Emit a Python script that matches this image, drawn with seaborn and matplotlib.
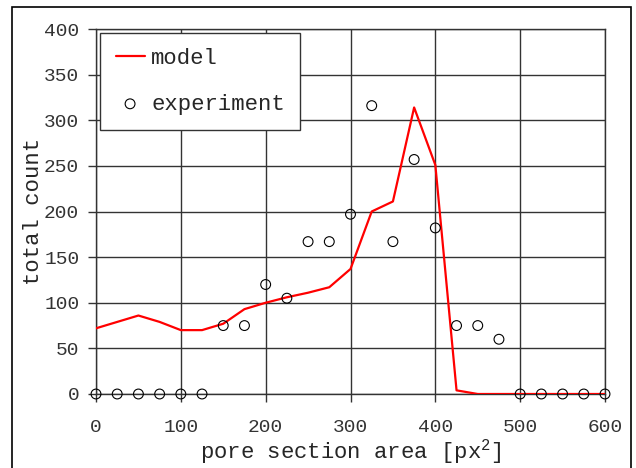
import matplotlib
matplotlib.use("Agg")
import matplotlib.pyplot as plt
import pandas as pd
import seaborn as sns
from matplotlib.patches import Rectangle

# experimental histogram (bins of 25 px^2)
exp_x = [0, 25, 50, 75, 100, 125, 150, 175, 200, 225, 250, 275, 300,
         325, 350, 375, 400, 425, 450, 475, 500, 525, 550, 575, 600]
exp_y = [0, 0, 0, 0, 0, 0, 75, 75, 120, 105, 167, 167, 197,
         316, 167, 257, 182, 75, 75, 60, 0, 0, 0, 0, 0]

# model curve
mod_x = [0, 50, 75, 100, 125, 150, 175, 200, 225, 250, 275, 300,
         325, 350, 375, 400, 425, 450, 475, 500, 525, 550, 575, 600]
mod_y = [72, 86, 79, 70, 70, 77, 93, 100, 106, 111, 117, 137,
         200, 211, 314, 251, 4, 0, 0, 0, 0, 0, 0, 0]

sns.set_theme(style="white")
plt.rcParams["font.family"] = ["Liberation Mono", "DejaVu Sans Mono"]
plt.rcParams["mathtext.fontset"] = "custom"
plt.rcParams["mathtext.rm"] = "Liberation Mono"
plt.rcParams["mathtext.default"] = "regular"

exp = pd.DataFrame({"x": exp_x, "y": exp_y})
mod = pd.DataFrame({"x": mod_x, "y": mod_y})

fig = plt.figure(figsize=(6.36, 4.68), dpi=100)
fig.patches.append(Rectangle((12 / 636, -0.01), 619 / 636, 1 - 7 / 468 + 0.01,
                             transform=fig.transFigure, fill=False,
                             edgecolor="black", lw=1.2))
ax = fig.add_axes([96 / 636, 1 - 394 / 468, 509 / 636, 365 / 468])

sns.lineplot(data=mod, x="x", y="y", color="red", lw=1.6, ax=ax,
             label="model", zorder=3)
sns.scatterplot(data=exp, x="x", y="y", marker="o", s=50,
                facecolor="none", edgecolor="black", linewidth=0.8,
                ax=ax, label="experiment", zorder=4, clip_on=False)

ax.set_xlim(0, 600)
ax.set_ylim(0, 400)
ax.set_xticks(range(0, 601, 100))
ax.set_yticks(range(0, 401, 50))
ax.grid(True, color="#333333", lw=1)
for s in ax.spines.values():
    s.set_color("#333333")
    s.set_linewidth(1)
ax.tick_params(axis="both", which="major", direction="out", length=6,
               width=1, color="#333333", labelsize=14, labelcolor="#333333",
               left=True, bottom=True)
ax.tick_params(axis="x", pad=12)
ax.tick_params(axis="y", pad=6)

ax.set_xlabel("pore section area [px$^2$]", fontsize=16, labelpad=1)
ax.set_ylabel("total count", fontsize=16, labelpad=0)

leg = ax.legend(loc="upper left", bbox_to_anchor=(0.008, 0.99), fontsize=16,
                frameon=True, fancybox=False, framealpha=1, handlelength=1.3,
                handletextpad=0.3, borderpad=0.7, labelspacing=1.1,
                borderaxespad=0)
leg.get_frame().set_edgecolor("#333333")
leg.get_frame().set_linewidth(1)

fig.savefig("out.png", dpi=100)
